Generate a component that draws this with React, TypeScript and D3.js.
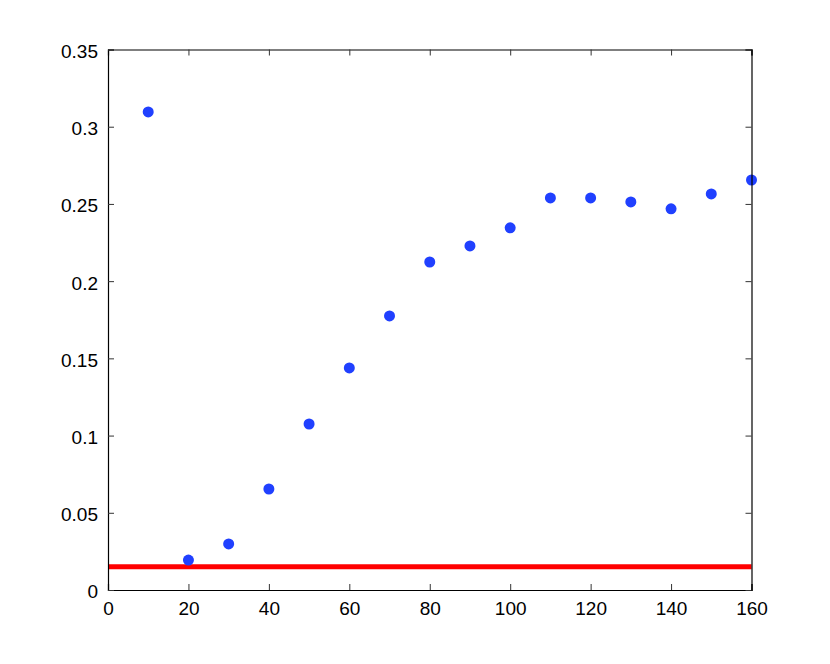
import * as d3 from "d3";
import React, { useRef, useEffect } from "react";

const xValues = [10, 20, 30, 40, 50, 60, 70, 80, 90, 100, 110, 120, 130, 140, 150, 160];
const yValues = [0.3096, 0.0194, 0.0298, 0.0654, 0.1075, 0.1438, 0.1775, 0.2124, 0.2228, 0.2345, 0.2539, 0.2539, 0.2513, 0.2468, 0.2565, 0.2655];
const baseline = 0.015;
const xTicks = [0, 20, 40, 60, 80, 100, 120, 140, 160];
const yTicks = [0, 0.05, 0.1, 0.15, 0.2, 0.25, 0.3, 0.35];

function App() {
    const width = 830;
    const height = 664;
    const margin = { top: 49.5, right: 78.5, bottom: 74, left: 108 };

    const axesRef = useRef(null);

    const xScale = d3
        .scaleLinear()
        .domain([0, 160])
        .range([margin.left, width - margin.right]);

    const yScale = d3
        .scaleLinear()
        .domain([0, 0.35])
        .range([height - margin.bottom, margin.top]);

    const points = xValues.map((x, i) => ({ x, y: yValues[i] }));

    useEffect(() => {
        const svgElement = d3.select(axesRef.current);
        svgElement.selectAll("*").remove();

        const fmt = (d) => String(d);
        const tickLen = 6;
        const font = "'Liberation Sans', Arial, Helvetica, sans-serif";

        // bottom axis, ticks pointing inward
        const bottom = svgElement
            .append("g")
            .attr("transform", `translate(0, ${height - margin.bottom})`)
            .call(d3.axisBottom(xScale).tickValues(xTicks).tickSize(-tickLen).tickPadding(12).tickFormat(fmt));

        const top = svgElement
            .append("g")
            .attr("transform", `translate(0, ${margin.top})`)
            .call(d3.axisTop(xScale).tickValues(xTicks).tickSize(-tickLen).tickFormat(() => ""));

        const left = svgElement
            .append("g")
            .attr("transform", `translate(${margin.left}, 0)`)
            .call(d3.axisLeft(yScale).tickValues(yTicks).tickSize(-tickLen).tickPadding(10).tickFormat(fmt));

        const right = svgElement
            .append("g")
            .attr("transform", `translate(${width - margin.right}, 0)`)
            .call(d3.axisRight(yScale).tickValues(yTicks).tickSize(-tickLen).tickFormat(() => ""));

        left.selectAll(".tick text").attr("dy", "0.42em");

        [bottom, top, left, right].forEach((g) => {
            g.select(".domain").attr("stroke", "#000").attr("stroke-width", 1.2);
            g.selectAll(".tick line").attr("stroke", "#333").attr("stroke-width", 1);
            g.selectAll(".tick text")
                .attr("fill", "#000")
                .style("font-family", font)
                .style("font-size", "19px");
        });
    }, [xScale, yScale]);

    return (
        <svg style={{ display: "block", position: "absolute", left: 0, top: 0 }} width={width} height={height}>
            <rect x={0} y={0} width={width} height={height} fill="#fff" />
            <line
                x1={xScale(0)}
                x2={xScale(160)}
                y1={yScale(baseline)}
                y2={yScale(baseline)}
                stroke="#ff0000"
                strokeWidth={5}
            />
            {points.map((d, i) => (
                <circle key={i} cx={xScale(d.x)} cy={yScale(d.y)} r={5.5} fill="#2040ff" />
            ))}
            <g ref={axesRef} />
        </svg>
    );
}

export default App;
